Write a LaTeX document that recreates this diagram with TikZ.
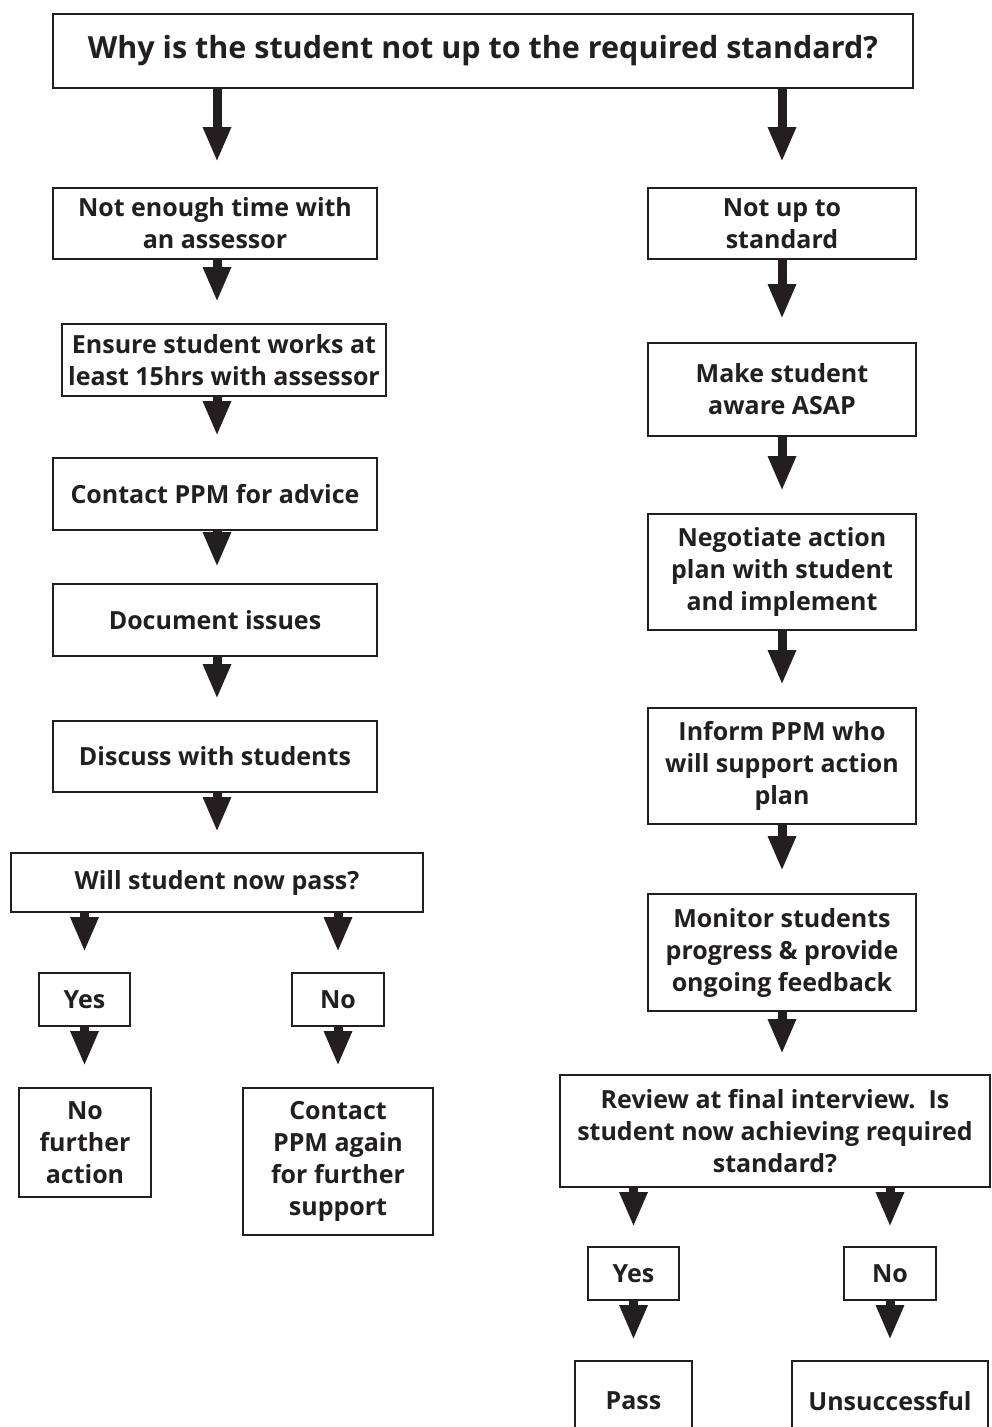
\documentclass[tikz,border=0pt]{standalone}
\usepackage{fontspec}
\setmainfont{Open Sans}
\usetikzlibrary{arrows.meta}
\definecolor{ink}{HTML}{231F20}
\begin{document}
\begin{tikzpicture}[x=1pt,y=-1pt,
  box/.style={draw=ink, line width=2pt, fill=white, text=ink, inner sep=0pt, align=center,
    font=\fontsize{25}{32}\selectfont\bfseries, rectangle},
  bigarrow/.style={draw=ink, line width=9pt, -{Triangle[length=35pt,width=26pt]}, shorten >=21pt}]
\useasboundingbox (0,0) rectangle (992,1427);
\clip (0,0) rectangle (992,1427);
\fill[white] (0,0) rectangle (992,1427);
\coordinate (colL) at (217,0);
\coordinate (colR) at (782,0);
% title
\node[box, minimum width=860pt, minimum height=74pt, font=\fontsize{30.5}{36}\selectfont\bfseries] (title) at (483,51) {Why is the student not up to the required standard?};
% left column
\node[box, minimum width=324pt, minimum height=71pt] (L1) at (215,223.5) {Not enough time with\\an assessor};
\node[box, minimum width=324pt, minimum height=72pt] (L2) at (224,360) {Ensure student works at\\least 15hrs with assessor};
\node[box, minimum width=324pt, minimum height=72pt] (L3) at (215,494) {Contact PPM for advice};
\node[box, minimum width=324pt, minimum height=72pt] (L4) at (215,620) {Document issues};
\node[box, minimum width=324pt, minimum height=71pt] (L5) at (215,756.5) {Discuss with students};
\node[box, minimum width=412pt, minimum height=59pt] (L6) at (217,882.5) {Will student now pass?};
\node[box, minimum width=91pt, minimum height=53pt] (LY) at (84.5,999.5) {Yes};
\node[box, minimum width=92pt, minimum height=53pt] (LN) at (338,999.5) {No};
\node[box, minimum width=132pt, minimum height=109pt] (LNF) at (85,1142.5) {No\\further\\action};
\node[box, minimum width=190pt, minimum height=147pt] (LC) at (338,1161.5) {Contact\\PPM again\\for further\\support};
% right column
\node[box, minimum width=268pt, minimum height=71pt] (R1) at (782,223.5) {Not up to\\standard};
\node[box, minimum width=268pt, minimum height=93pt] (R2) at (782,389.5) {Make student\\aware ASAP};
\node[box, minimum width=268pt, minimum height=116pt] (R3) at (782,572) {Negotiate action\\plan with student\\and implement};
\node[box, minimum width=268pt, minimum height=116pt] (R4) at (782,766) {Inform PPM who\\will support action\\plan};
\node[box, minimum width=268pt, minimum height=117pt] (R5) at (782,952.5) {Monitor students\\progress \& provide\\ongoing feedback};
\node[box, minimum width=430pt, minimum height=112pt] (R6) at (775,1131) {Review at final interview.\ \ Is\\student now achieving required\\standard?};
\node[box, minimum width=91pt, minimum height=53pt] (RY) at (633.5,1273.5) {Yes};
\node[box, minimum width=92pt, minimum height=53pt] (RN) at (890,1273.5) {No};
\node[box, minimum width=117pt, minimum height=80pt] (RP) at (633.5,1401) {Pass};
\node[box, minimum width=196pt, minimum height=80pt] (RU) at (890,1401) {Unsuccessful};
% arrows
\draw[bigarrow, shorten >=25pt] (title.south -| colL) -- (L1.north -| colL);
\draw[bigarrow, shorten >=25pt] (title.south -| colR) -- (R1.north -| colR);
\draw[bigarrow] (L1.south -| colL) -- (L2.north -| colL);
\draw[bigarrow] (L2.south -| colL) -- (L3.north -| colL);
\draw[bigarrow, shorten >=16pt] (L3.south -| colL) -- (L4.north -| colL);
\draw[bigarrow] (L4.south -| colL) -- (L5.north -| colL);
\draw[bigarrow, shorten >=20pt] (L5.south -| colL) -- (L6.north -| colL);
\draw[bigarrow, shorten >=20pt] (L6.south -| LY) -- (LY.north);
\draw[bigarrow, shorten >=20pt] (L6.south -| LN) -- (LN.north);
\draw[bigarrow] (LY.south) -- (LNF.north -| LY);
\draw[bigarrow] (LN.south) -- (LC.north -| LN);
\draw[bigarrow, shorten >=23pt] (R1.south -| colR) -- (R2.north -| colR);
\draw[bigarrow, shorten >=22pt] (R2.south -| colR) -- (R3.north -| colR);
\draw[bigarrow, shorten >=22pt] (R3.south -| colR) -- (R4.north -| colR);
\draw[bigarrow, shorten >=22pt] (R4.south -| colR) -- (R5.north -| colR);
\draw[bigarrow, shorten >=20pt] (R5.south -| colR) -- (R6.north -| colR);
\draw[bigarrow, shorten >=19pt] (R6.south -| RY) -- (RY.north);
\draw[bigarrow, shorten >=19pt] (R6.south -| RN) -- (RN.north);
\draw[bigarrow, shorten >=20pt] (RY.south) -- (RP.north -| RY);
\draw[bigarrow, shorten >=20pt] (RN.south) -- (RU.north -| RN);
\end{tikzpicture}
\end{document}
